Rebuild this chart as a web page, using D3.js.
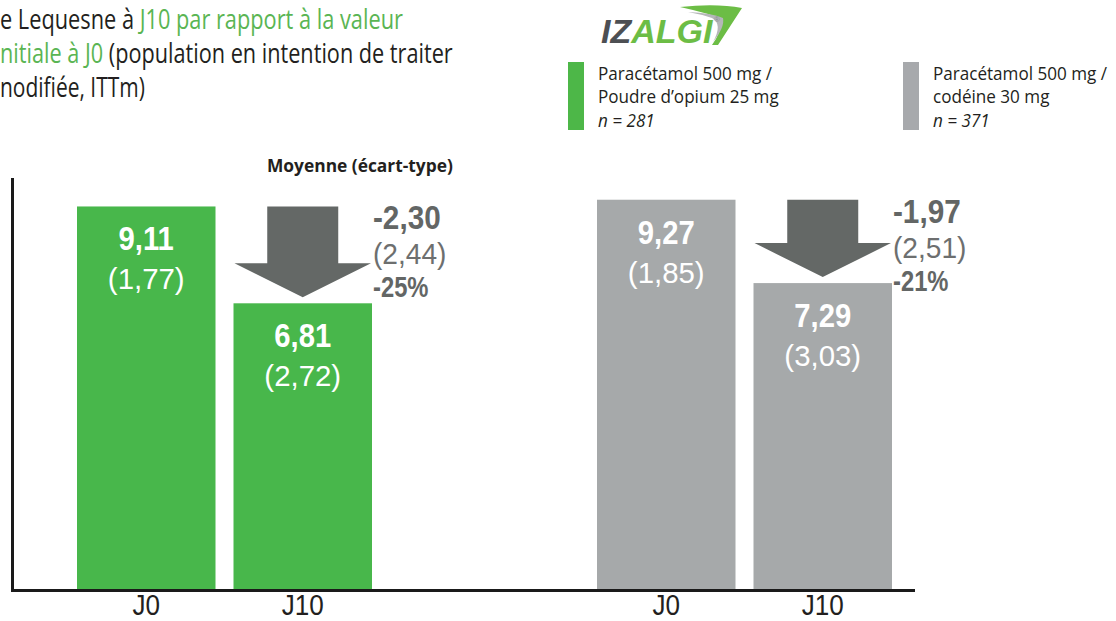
<!DOCTYPE html>
<html><head><meta charset="utf-8">
<script src="https://cdn.jsdelivr.net/npm/d3@7"></script>
<style>html,body{margin:0;padding:0;background:#fff;}svg{display:block;}</style>
</head><body>
<svg id="c" width="1116" height="621"></svg>
<script>
// ---- data ----
const groups = ["Paracétamol 500 mg / Poudre d’opium 25 mg", "Paracétamol 500 mg / codéine 30 mg"];
const timepoints = ["J0", "J10"];
const meanValues = [[9.11, 6.81], [9.27, 7.29]];
const sdValues = [["(1,77)", "(2,72)"], ["(1,85)", "(3,03)"]];
const meanLabels = [["9,11", "6,81"], ["9,27", "7,29"]];
const changeLabels = ["-2,30", "-1,97"];
const changeSd = ["(2,44)", "(2,51)"];
const changePct = ["-25%", "-21%"];
const legendLines = [["Paracétamol 500 mg /", "Poudre d’opium 25 mg", "n = 281"], ["Paracétamol 500 mg /", "codéine 30 mg", "n = 371"]];
const groupColors = ["#48b74b", "#a6a9aa"];
const legendColors = ["#4db748", "#a7a9ac"];

const svg = d3.select("#c");
const FONT = "'Liberation Sans', Arial, sans-serif";
const OFONT = "'Open Sans', sans-serif";

// scales
const y = d3.scaleLinear().domain([0, 10]).range([590, 169]);
const xg = d3.scaleBand().domain(d3.range(groups.length)).range([77, 1117]);
const xi = d3.scaleBand().domain(timepoints).range([0, 295]).paddingInner(0.115);
const bw = xi.bandwidth();

function fit(sel, w) {
  const n = sel.node();
  const L = n.getComputedTextLength();
  const x = +sel.attr("x") || 0;
  const sx = w / L;
  sel.attr("transform", `translate(${x},0) scale(${sx},1) translate(${-x},0)`);
}
function squeeze(sel, f) {
  const x = +sel.attr("x") || 0;
  sel.attr("transform", `translate(${x},0) scale(${f},1) translate(${-x},0)`);
}

// ---- title (cropped) ----
const titleLines = [
  [["e Lequesne à ", "#231f20"], ["J10 par rapport à la valeur", "#5ab553"]],
  [["nitiale à J0", "#5ab553"], [" (population en intention de traiter", "#231f20"]],
  [["nodifiée, ITTm)", "#231f20"]]
];
const titleW = [403, 453, 145];
titleLines.forEach((parts, i) => {
  const t = svg.append("text").attr("x", 0).attr("y", 29 + i * 34)
    .style("font-family", OFONT).style("font-size", "27px");
  parts.forEach(p => t.append("tspan").text(p[0]).attr("fill", p[1]));
  fit(t, titleW[i]);
});

// ---- logo ----
const logo = svg.append("g");
logo.append("path").attr("d", "M680,7 Q716,3 742,8 L718,45 L712,45 Q730,20 708,14 Q694,10 680,7 Z").attr("fill", "#6cbd45");
logo.append("path").attr("d", "M688,12 Q712,13 723,18 Q725,27 713,42 Q723,24 712,18 Q700,14 688,12 Z").attr("fill", "#b5b7b9");
const lt = logo.append("text").attr("x", 601).attr("y", 43)
  .style("font-family", FONT).style("font-size", "34px").style("font-weight", "bold").style("font-style", "italic");
lt.append("tspan").text("IZ").attr("fill", "#4d4f53");
lt.append("tspan").text("ALGI").attr("fill", "#6cbd45");
logo.append("text").attr("x", 714).attr("y", 22).text("®").attr("fill", "#8a8c8e")
  .style("font-family", FONT).style("font-size", "8px");

// ---- legend ----
const legX = [568, 903];
legendLines.forEach((lines, g) => {
  svg.append("rect").attr("x", legX[g]).attr("y", 62).attr("width", 16).attr("height", 68).attr("fill", legendColors[g]);
  lines.forEach((s, k) => {
    const t = svg.append("text").attr("x", legX[g] + 30).attr("y", 80 + k * 23.5).text(s)
      .attr("fill", "#231f20").style("font-family", OFONT).style("font-size", "19px")
      .style("font-style", k === 2 ? "italic" : "normal");
    squeeze(t, 0.9);
  });
});

// ---- subtitle ----
const mt = svg.append("text").attr("x", 267).attr("y", 172)
  .text("Moyenne (écart-type)").attr("fill", "#231f20")
  .style("font-family", OFONT).style("font-size", "18px").style("font-weight", "bold");
fit(mt, 186);

// ---- bars ----
groups.forEach((gname, g) => {
  const gx = xg(g);
  const G = svg.append("g").attr("transform", `translate(${gx},0)`);
  timepoints.forEach((tp, i) => {
    const v = meanValues[g][i];
    const x0 = xi(tp);
    const top = y(v);
    G.append("rect").attr("x", x0).attr("y", top).attr("width", bw).attr("height", y(0) - top).attr("fill", groupColors[g]);
    const vt = G.append("text").attr("x", x0 + bw / 2).attr("y", top + 44).attr("text-anchor", "middle")
      .text(meanLabels[g][i]).attr("fill", "#fff")
      .style("font-family", FONT).style("font-size", "34px").style("font-weight", "bold");
    squeeze(vt, 0.86);
    const st = G.append("text").attr("x", x0 + bw / 2).attr("y", top + 83).attr("text-anchor", "middle")
      .text(sdValues[g][i]).attr("fill", "#fff")
      .style("font-family", FONT).style("font-size", "30px");
    squeeze(st, 0.98);
  });
  // arrow
  const yTop = y(meanValues[g][0]);
  const yTip = y(meanValues[g][1]) - 6;
  const cx = xi("J10") + bw / 2;
  const sw = 35.5, hw = bw / 2 - 1, hh = 34;
  G.append("path").attr("d",
    `M${cx - sw},${yTop} L${cx + sw},${yTop} L${cx + sw},${yTip - hh} L${cx + hw},${yTip - hh} L${cx},${yTip} L${cx - hw},${yTip - hh} L${cx - sw},${yTip - hh} Z`)
    .attr("fill", "#646866");
  const lx = xi("J10") + bw + 1;
  const c1 = G.append("text").attr("x", lx).attr("y", yTop + 23).text(changeLabels[g]).attr("fill", "#636665")
    .style("font-family", FONT).style("font-size", "33px").style("font-weight", "bold");
  squeeze(c1, 0.9);
  const c2 = G.append("text").attr("x", lx).attr("y", yTop + 58).text(changeSd[g]).attr("fill", "#6d6f6f")
    .style("font-family", FONT).style("font-size", "29px");
  squeeze(c2, 0.97);
  const c3 = G.append("text").attr("x", lx).attr("y", yTop + 91).text(changePct[g]).attr("fill", "#636665")
    .style("font-family", FONT).style("font-size", "29px").style("font-weight", "bold");
  squeeze(c3, 0.82);
  // x axis labels
  const ax = G.append("g").attr("transform", `translate(0,${y(0)})`)
    .call(d3.axisBottom(xi).tickSize(0).tickPadding(4));
  ax.select(".domain").remove();
  ax.selectAll("text").attr("fill", "#231f20").attr("transform", "scale(0.9,1)")
    .style("font-family", FONT).style("font-size", "29px");
});

// ---- axes lines ----
svg.append("line").attr("x1", 12.5).attr("x2", 12.5).attr("y1", 178).attr("y2", 592).attr("stroke", "#1a1a1a").attr("stroke-width", 3);
svg.append("line").attr("x1", 11).attr("x2", 915).attr("y1", y(0) + 0.5).attr("y2", y(0) + 0.5).attr("stroke", "#1a1a1a").attr("stroke-width", 3);
</script>
</body></html>
